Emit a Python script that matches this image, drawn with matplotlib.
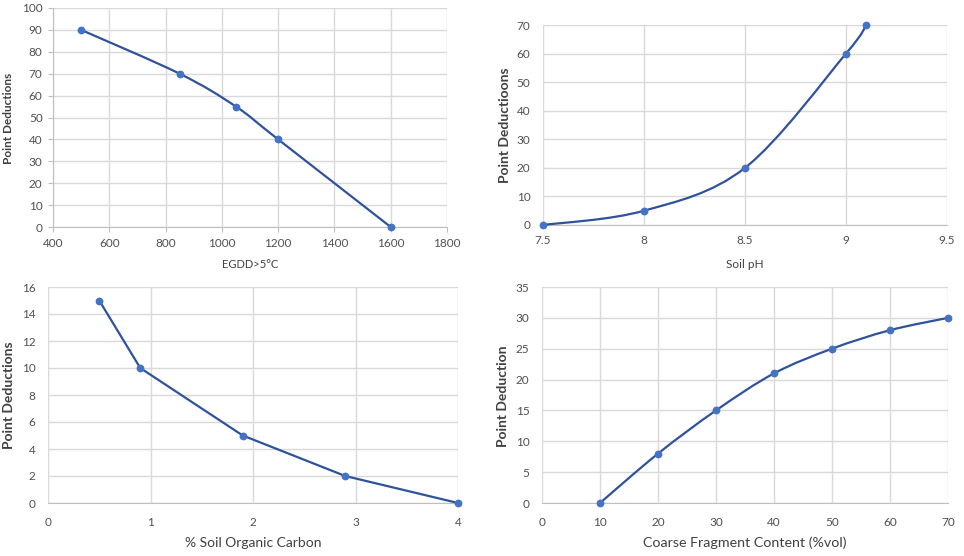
import numpy as np
import matplotlib
matplotlib.use("Agg")
import matplotlib.pyplot as plt
from matplotlib.path import Path
from matplotlib.patches import PathPatch

plt.rcParams['font.family'] = ['Lato', 'DejaVu Sans']

# ---- data ----
egdd_x = [500, 850, 1050, 1200, 1600]
egdd_y = [90, 70, 55, 40, 0]

ph_x = [7.5, 8.0, 8.5, 9.0, 9.1]
ph_y = [0, 5, 20, 60, 70]

soc_x = [0.5, 0.9, 1.9, 2.9, 4.0]
soc_y = [15, 10, 5, 2, 0]

cf_x = [10, 20, 30, 40, 50, 60, 70]
cf_y = [0, 8, 15, 21, 25, 28, 30]

LINE = '#2f529c'
MARK = '#4472c4'
GRID = '#d9d9d9'
TXT = '#505050'
LAB = '#404040'

W, H = 964, 556
fig = plt.figure(figsize=(W / 100, H / 100), dpi=100)


def px_axes(l, t, r, b):
    return fig.add_axes([l / W, 1 - b / H, (r - l) / W, (b - t) / H])


def smooth_path(x, y):
    x = np.asarray(x, float)
    y = np.asarray(y, float)
    P = np.column_stack([x, y])
    n = len(P)
    verts = [P[0]]
    codes = [Path.MOVETO]
    for i in range(n - 1):
        p0 = P[i - 1] if i > 0 else P[i]
        p1 = P[i]
        p2 = P[i + 1]
        p3 = P[i + 2] if i + 2 < n else P[i + 1]
        c1 = p1 + (p2 - p0) / 6.0
        c2 = p2 - (p3 - p1) / 6.0
        verts += [c1, c2, p2]
        codes += [Path.CURVE4] * 3
    return Path(verts, codes)


def style(ax, xlim, xticks, ylim, yticks, fs, xpad, ypad, ticks=False):
    ax.set_xlim(*xlim)
    ax.set_ylim(*ylim)
    ax.set_xticks(xticks)
    ax.set_yticks(yticks)
    ax.grid(True, color=GRID, linewidth=1.0)
    ax.set_axisbelow(True)
    for s in ['top', 'right', 'left']:
        ax.spines[s].set_visible(False)
    ax.spines['bottom'].set_color('#bfbfbf')
    if ticks:
        ax.spines['left'].set_visible(True)
        ax.spines['left'].set_color('#bfbfbf')
        ax.tick_params(length=3.5, width=0.8, color='#bfbfbf', direction='out')
    else:
        ax.tick_params(length=0)
    ax.tick_params(axis='x', labelsize=fs, labelcolor=TXT, pad=xpad)
    ax.tick_params(axis='y', labelsize=fs, labelcolor=TXT, pad=ypad)


def draw(ax, x, y, smooth=True):
    if smooth:
        ax.add_patch(PathPatch(smooth_path(x, y), fill=False, edgecolor=LINE,
                               linewidth=1.6, zorder=3, clip_on=False))
    else:
        ax.plot(x, y, color=LINE, linewidth=1.6, zorder=3, clip_on=False)
    ax.plot(x, y, linestyle='none', marker='o', markersize=4.6,
            color=MARK, zorder=4, clip_on=False)


# Chart 1
ax1 = px_axes(53, 8, 447, 227)
style(ax1, (400, 1800), range(400, 1801, 200), (0, 100), range(0, 101, 10), 8.5,
      xpad=4.5, ypad=4, ticks=True)
draw(ax1, egdd_x, egdd_y)
fig.text(250 / W, 1 - 265 / H, 'EGDD>5°C', ha='center', va='center', fontsize=8, color=LAB)
fig.text(9 / W, 1 - 118 / H, 'Point Deductions', ha='center', va='center', rotation=90,
         fontsize=8.5, fontweight='bold', color=LAB)

# Chart 2
ax2 = px_axes(543, 25, 947, 225)
style(ax2, (7.5, 9.5), [7.5, 8, 8.5, 9, 9.5], (0, 70), range(0, 71, 10), 8.5,
      xpad=7, ypad=9)
ax2.set_xticklabels(['7.5', '8', '8.5', '9', '9.5'])
draw(ax2, ph_x, ph_y)
fig.text(745 / W, 1 - 265 / H, 'Soil pH', ha='center', va='center', fontsize=8.5, color=LAB)
fig.text(505 / W, 1 - 125 / H, 'Point Deductioons', ha='center', va='center', rotation=90,
         fontsize=10, fontweight='bold', color=LAB)

# Chart 3
ax3 = px_axes(48, 287, 458, 503)
style(ax3, (0, 4), range(0, 5), (0, 16), range(0, 17, 2), 8.5, xpad=10, ypad=9)
draw(ax3, soc_x, soc_y, smooth=False)
fig.text(253 / W, 1 - 543 / H, '% Soil Organic Carbon', ha='center', va='center',
         fontsize=10, color=LAB)
fig.text(9 / W, 1 - 395 / H, 'Point Deductions', ha='center', va='center', rotation=90,
         fontsize=10, fontweight='bold', color=LAB)

# Chart 4
ax4 = px_axes(542, 287, 948, 503)
style(ax4, (0, 70), range(0, 71, 10), (0, 35), range(0, 36, 5), 8.5, xpad=10, ypad=9)
draw(ax4, cf_x, cf_y)
fig.text(745 / W, 1 - 543 / H, 'Coarse Fragment Content (%vol)', ha='center', va='center',
         fontsize=10.3, color=LAB)
fig.text(503 / W, 1 - 396 / H, 'Point Deduction', ha='center', va='center', rotation=90,
         fontsize=10, fontweight='bold', color=LAB)

fig.savefig('out.png', dpi=100)
